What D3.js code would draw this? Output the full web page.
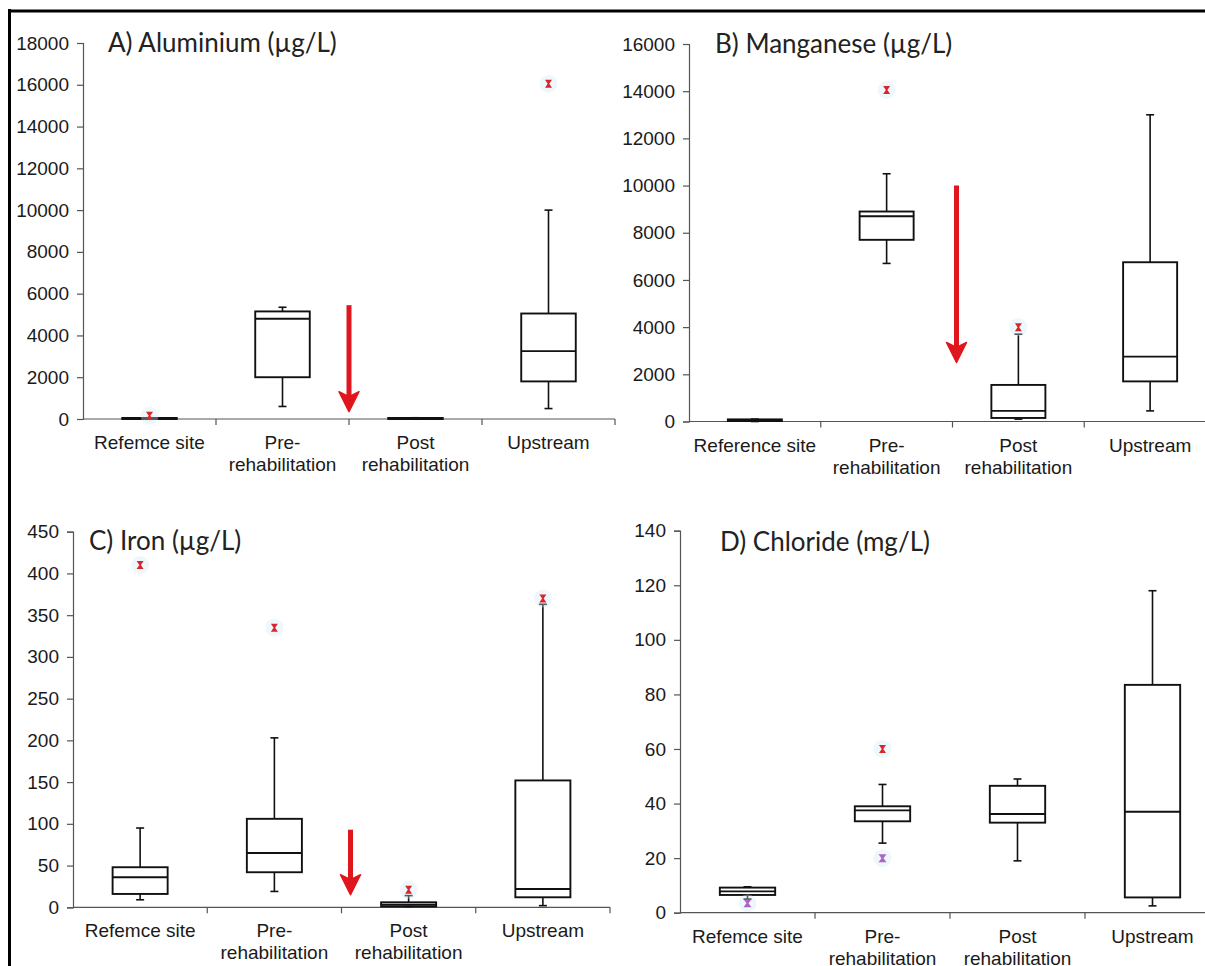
<!DOCTYPE html>
<html><head><meta charset="utf-8">
<script src="https://cdn.jsdelivr.net/npm/d3@7"></script>
<style>
html,body{margin:0;padding:0;background:#fff;}
svg{display:block;}
.lbl{font-family:"Liberation Sans", Arial, Helvetica, sans-serif;}
.ttl{font-family:Lato, "Open Sans", sans-serif;}
</style></head>
<body>
<svg id="chart" width="1205" height="966"></svg>
<script>
// ---------------- DATA ----------------
const catsA = [["Refemce site"], ["Pre-", "rehabilitation"], ["Post", "rehabilitation"], ["Upstream"]];
const catsB = [["Reference site"], ["Pre-", "rehabilitation"], ["Post", "rehabilitation"], ["Upstream"]];
const catsC = [["Refemce site"], ["Pre-", "rehabilitation"], ["Post", "rehabilitation"], ["Upstream"]];
const catsD = [["Refemce site"], ["Pre-", "rehabilitation"], ["Post", "rehabilitation"], ["Upstream"]];

const titles = ["A) Aluminium (µg/L)", "B) Manganese (µg/L)", "C) Iron (µg/L)", "D) Chloride (mg/L)"];

// Panel A – Aluminium
const ticksA = [0, 2000, 4000, 6000, 8000, 10000, 12000, 14000, 16000, 18000];
const lowA  = [0, 600, 0, 500];
const q1A   = [0, 2000, 0, 1800];
const medA  = [20, 4800, 10, 3250];
const q3A   = [50, 5150, 50, 5050];
const highA = [60, 5350, 60, 10000];
const outA  = [[0, 150, "red"], [3, 16050, "red"]];
const arrowA = [5450, 350];

// Panel B – Manganese
const ticksB = [0, 2000, 4000, 6000, 8000, 10000, 12000, 14000, 16000];
const lowB  = [0, 6700, 100, 450];
const q1B   = [20, 7700, 150, 1700];
const medB  = [50, 8700, 450, 2750];
const q3B   = [90, 8900, 1550, 6750];
const highB = [100, 10500, 3700, 13000];
const outB  = [[1, 14050, "red"], [2, 4000, "red"]];
const arrowB = [10000, 2500];

// Panel C – Iron
const ticksC = [0, 50, 100, 150, 200, 250, 300, 350, 400, 450];
const lowC  = [9, 19, 1, 2];
const q1C   = [16, 42, 1, 12];
const medC  = [36, 65, 3, 22];
const q3C   = [48, 106, 6, 152];
const highC = [95, 203, 14, 363];
const outC  = [[0, 410, "red"], [1, 335, "red"], [2, 21, "red"], [3, 370, "red"]];
const arrowC = [93, 15];

// Panel D – Chloride
const ticksD = [0, 20, 40, 60, 80, 100, 120, 140];
const lowD  = [5, 25.5, 19, 2.5];
const q1D   = [6.5, 33.5, 33, 5.6];
const medD  = [7.8, 37.5, 36.2, 37];
const q3D   = [9.2, 39, 46.5, 83.5];
const highD = [9.5, 47, 49, 118];
const outD  = [[0, 3.5, "purple"], [1, 60, "red"], [1, 20, "purple"]];
const arrowD = null;

// ---------------- LAYOUT ----------------
const panels = [
  {cats: catsA, ticks: ticksA, low: lowA, q1: q1A, med: medA, q3: q3A, high: highA, out: outA, arrow: arrowA,
   x0: 83, x1: 615, yTop: 43, yBot: 419, titleX: 108, titleY: 52, arrowDx: 0},
  {cats: catsB, ticks: ticksB, low: lowB, q1: q1B, med: medB, q3: q3B, high: highB, out: outB, arrow: arrowB,
   x0: 689, x1: 1216, yTop: 44, yBot: 421.5, titleX: 715, titleY: 53, arrowDx: 4},
  {cats: catsC, ticks: ticksC, low: lowC, q1: q1C, med: medC, q3: q3C, high: highC, out: outC, arrow: arrowC,
   x0: 73, x1: 610, yTop: 531.7, yBot: 907.3, titleX: 89, titleY: 550, arrowDx: 9},
  {cats: catsD, ticks: ticksD, low: lowD, q1: q1D, med: medD, q3: q3D, high: highD, out: outD, arrow: arrowD,
   x0: 680, x1: 1220, yTop: 530.7, yBot: 912.7, titleX: 720, titleY: 551, arrowDx: 0}
];
const colors = {red: "#d9262c", purple: "#a04ab8"};
const ink = "#1a1a1a";

const svg = d3.select("#chart");
svg.append("rect").attr("width", 1205).attr("height", 966).attr("fill", "#fff");

panels.forEach((p, pi) => {
  const g = svg.append("g");
  const idx = d3.range(p.cats.length);
  const x = d3.scaleBand().domain(idx).range([p.x0, p.x1]).paddingInner(0).paddingOuter(0);
  const y = d3.scaleLinear().domain([0, d3.max(p.ticks)]).range([p.yBot, p.yTop]);
  const bw = x.bandwidth() * 0.41;
  const cx = i => x(i) + x.bandwidth() / 2;

  // y axis
  const yAxis = d3.axisLeft(y).tickValues(p.ticks).tickSize(6).tickPadding(8).tickFormat(d3.format("d"));
  const ya = g.append("g").attr("transform", `translate(${p.x0},0)`).call(yAxis);
  ya.attr("font-family", null).attr("font-size", null);
  ya.select(".domain").attr("stroke", "#555").attr("stroke-width", 1.2);
  ya.selectAll(".tick line").attr("stroke", "#555").attr("stroke-width", 1.2);
  ya.selectAll(".tick text").attr("class", "lbl").style("font-size", "19px").attr("fill", ink);

  // x axis line and separator ticks
  g.append("line").attr("x1", p.x0).attr("x2", p.x1).attr("y1", y(0)).attr("y2", y(0))
    .attr("stroke", "#555").attr("stroke-width", 1.2);
  g.selectAll(".xtick").data(idx.slice(1).concat([p.cats.length])).join("line")
    .attr("x1", i => i < p.cats.length ? x(i) : p.x1).attr("x2", i => i < p.cats.length ? x(i) : p.x1)
    .attr("y1", y(0)).attr("y2", y(0) + 6).attr("stroke", "#555").attr("stroke-width", 1.2);

  // category labels
  idx.forEach(i => {
    const t = g.append("text").attr("class", "lbl").attr("text-anchor", "middle")
      .style("font-size", "19px").attr("fill", ink);
    p.cats[i].forEach((line, li) => {
      t.append("tspan").attr("x", cx(i)).attr("y", y(0) + 30 + li * 22).text(line);
    });
  });

  // whiskers
  idx.forEach(i => {
    const c = cx(i);
    const wg = g.append("g").attr("stroke", "#111").attr("stroke-width", 1.6);
    wg.append("line").attr("x1", c).attr("x2", c).attr("y1", y(p.q3[i])).attr("y2", y(p.high[i]));
    wg.append("line").attr("x1", c).attr("x2", c).attr("y1", y(p.q1[i])).attr("y2", y(p.low[i]));
    wg.append("line").attr("x1", c - 4).attr("x2", c + 4).attr("y1", y(p.high[i])).attr("y2", y(p.high[i]));
    wg.append("line").attr("x1", c - 4).attr("x2", c + 4).attr("y1", y(p.low[i])).attr("y2", y(p.low[i]));
  });

  // boxes
  g.selectAll(".box").data(idx).join("rect")
    .attr("x", i => cx(i) - bw / 2).attr("width", bw)
    .attr("y", i => y(p.q3[i])).attr("height", i => Math.max(0.5, y(p.q1[i]) - y(p.q3[i])))
    .attr("fill", "none").attr("stroke", "#111").attr("stroke-width", 1.9);
  g.selectAll(".med").data(idx).join("line")
    .attr("x1", i => cx(i) - bw / 2).attr("x2", i => cx(i) + bw / 2)
    .attr("y1", i => y(p.med[i])).attr("y2", i => y(p.med[i]))
    .attr("stroke", "#111").attr("stroke-width", 1.9);

  // outliers
  p.out.forEach(([i, v, col]) => {
    const ox = cx(i), oy = y(v);
    g.append("circle").attr("cx", ox).attr("cy", oy).attr("r", 9).attr("fill", "#cfe8f5").attr("opacity", 0.35);
    if (col === "red") {
      g.append("path").attr("transform", `translate(${ox},${oy})`)
        .attr("d", "M-3.5,-4L3.5,-4L0.8,0L3.5,4L-3.5,4L-0.8,0Z").attr("fill", colors.red);
    } else {
      g.append("path").attr("transform", `translate(${ox},${oy})`)
        .attr("d", "M-4,-4L4,-4L1,0L4,4L-4,4L-1,0Z").attr("fill", colors.purple).attr("opacity", 0.85);
    }
  });

  // red arrow annotation
  if (p.arrow) {
    const ax = x(2) + p.arrowDx;
    const yStart = y(p.arrow[0]), yTip = y(p.arrow[1]);
    const headH = 20, headW = 10;
    g.append("line").attr("x1", ax).attr("x2", ax).attr("y1", yStart).attr("y2", yTip - 10)
      .attr("stroke", "#e0161e").attr("stroke-width", 5);
    g.append("path")
      .attr("d", `M${ax - headW},${yTip - headH} L${ax},${yTip - headH + 5} L${ax + headW},${yTip - headH} L${ax},${yTip} Z`)
      .attr("fill", "#e0161e").attr("stroke", "#e0161e").attr("stroke-width", 1.5).attr("stroke-linejoin", "round");
  }

  // title
  svg.append("text").attr("class", "ttl").attr("x", p.titleX).attr("y", p.titleY)
    .style("font-size", "26px").attr("fill", "#222")
    .text(titles[pi]);
});

// outer frame (left and top edges)
svg.append("line").attr("x1", 9.5).attr("x2", 9.5).attr("y1", 9).attr("y2", 966).attr("stroke", "#000").attr("stroke-width", 3);
svg.append("line").attr("x1", 8).attr("x2", 1205).attr("y1", 11).attr("y2", 11).attr("stroke", "#000").attr("stroke-width", 3);
</script>
</body></html>
